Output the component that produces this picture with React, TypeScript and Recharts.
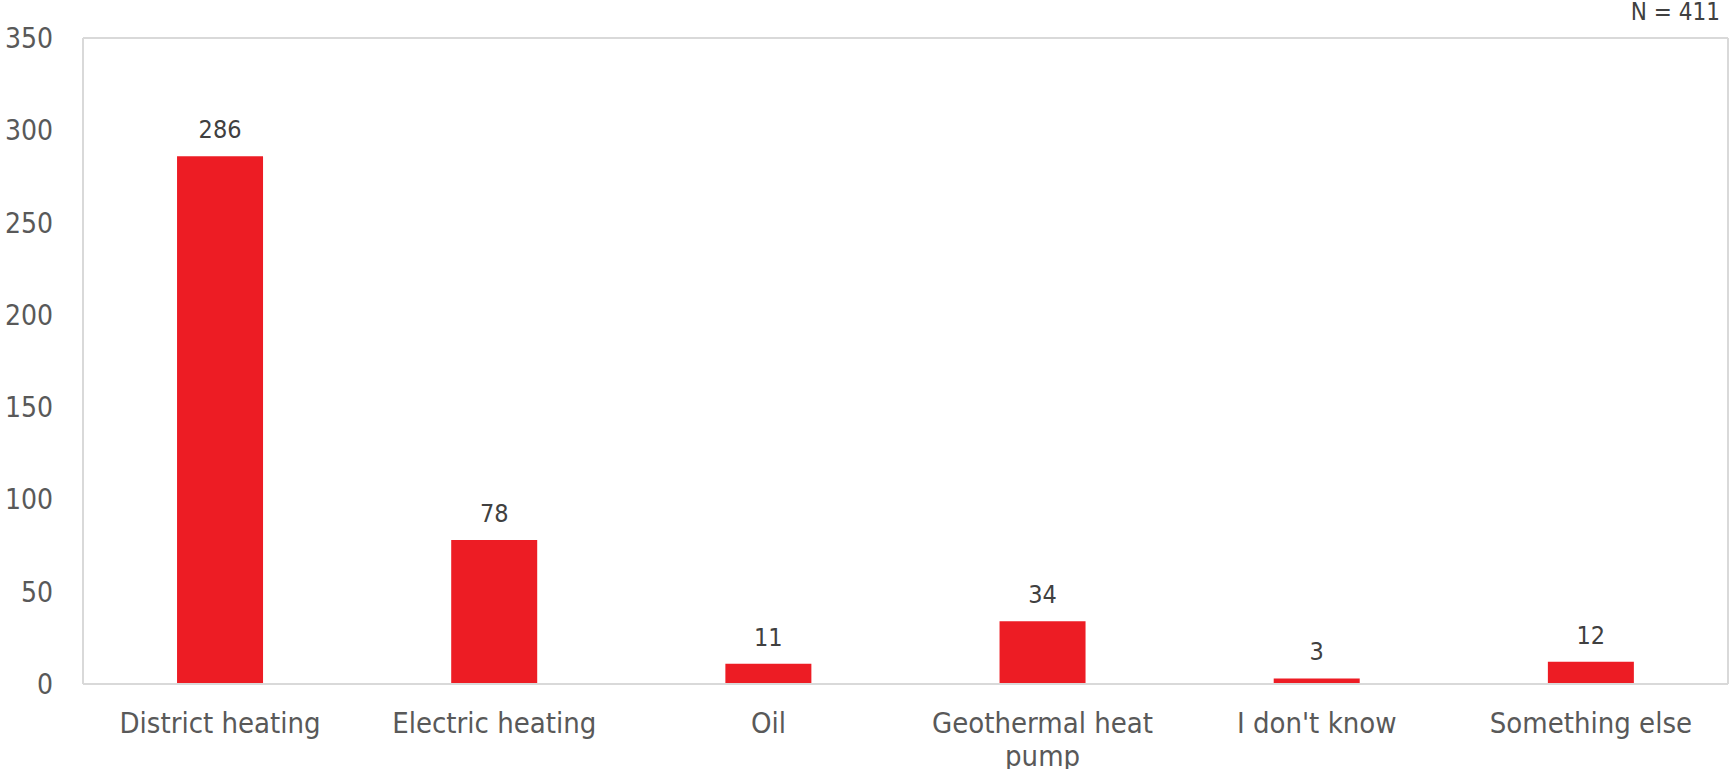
import { BarChart, Bar, XAxis, YAxis, LabelList, CartesianGrid } from 'recharts';

const categories = ['District heating', 'Electric heating', 'Oil', 'Geothermal heat pump', "I don't know", 'Something else'];
const counts = [286, 78, 11, 34, 3, 12];
const yTicks = [0, 50, 100, 150, 200, 250, 300, 350];
const sampleNote = 'N = 411';

const data = categories.map((name, i) => ({ name, value: counts[i] }));

const FONT = '"DejaVu Sans Condensed", "DejaVu Sans", sans-serif';
const BORDER = '#d9d9d9';
const TICK_SIZE = 29;

// greedy word wrap measured with a canvas
let ctx: CanvasRenderingContext2D | null = null;
function wrap(label: string, maxWidth: number) {
  if (!ctx) {
    ctx = document.createElement('canvas').getContext('2d');
  }
  if (ctx) ctx.font = `${TICK_SIZE}px ${FONT}`;
  const words = label.split(' ');
  const lines: string[] = [];
  let cur = '';
  words.forEach(w => {
    const test = cur ? cur + ' ' + w : w;
    const wd = ctx ? ctx.measureText(test).width : test.length * 12;
    if (wd > maxWidth && cur) {
      lines.push(cur);
      cur = w;
    } else {
      cur = test;
    }
  });
  if (cur) lines.push(cur);
  return lines;
}

function CategoryTick(props: any) {
  const { x, y, payload } = props;
  const lines = wrap(String(payload.value), 240);
  return (
    <text
      x={x}
      y={y}
      textAnchor="middle"
      fontSize={TICK_SIZE}
      fontFamily={FONT}
      fill="#595959"
    >
      {lines.map((l, i) => (
        <tspan key={i} x={x} dy={i === 0 ? '0.71em' : 33}>
          {l}
        </tspan>
      ))}
    </text>
  );
}

export default function App() {
  return (
    <div style={{ position: 'absolute', left: 0, top: 0, width: 1729, height: 769, background: '#fff' }}>
      <div
        style={{
          position: 'absolute',
          right: 9,
          top: 0,
          fontFamily: FONT,
          fontSize: 24,
          lineHeight: '24px',
          color: '#404040',
        }}
      >
        {sampleNote}
      </div>
      <BarChart
        width={1729}
        height={769}
        data={data}
        margin={{ top: 38, right: 1, left: 0, bottom: 0 }}
        barCategoryGap="34.3%"
      >
        {/* top and right edges of the plot box */}
        <CartesianGrid
          stroke={BORDER}
          strokeWidth={2}
          horizontalCoordinatesGenerator={({ offset }: any) => [offset.top]}
          verticalCoordinatesGenerator={({ offset }: any) => [offset.left + offset.width]}
        />
        <XAxis
          dataKey="name"
          height={85}
          tickLine={false}
          tickSize={0}
          tickMargin={28}
          axisLine={{ stroke: BORDER, strokeWidth: 2 }}
          interval={0}
          tick={<CategoryTick />}
        />
        <YAxis
          width={83}
          domain={[0, 350]}
          ticks={yTicks}
          tickLine={false}
          tickSize={0}
          tickMargin={30}
          axisLine={{ stroke: BORDER, strokeWidth: 2 }}
          tick={{ fontSize: 28, fontFamily: FONT, fill: '#595959' }}
        />
        <Bar dataKey="value" fill="#ed1c24" isAnimationActive={false}>
          <LabelList
            dataKey="value"
            position="top"
            offset={18}
            style={{ fontSize: 25, fontFamily: FONT, fill: '#404040' }}
          />
        </Bar>
      </BarChart>
    </div>
  );
}
